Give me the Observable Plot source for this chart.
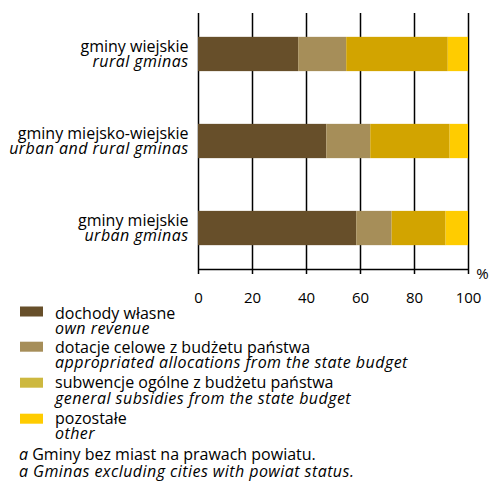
<!DOCTYPE html>
<html>
<head>
<meta charset="utf-8">
<script src="https://cdn.jsdelivr.net/npm/d3@7"></script>
<script src="https://cdn.jsdelivr.net/npm/@observablehq/plot@0.6"></script>
<style>
  body { margin: 0; background: #fff; }
  svg { display: block; }
  #legend { margin-top: -10px; position: relative; }
</style>
</head>
<body>
<div id="chart"></div>
<script>
// ---- data ----
const categoriesPL = ["gminy wiejskie", "gminy miejsko-wiejskie", "gminy miejskie"];
const categoriesEN = ["rural gminas", "urban and rural gminas", "urban gminas"];
const ownRevenue  = [37.1, 47.5, 58.6];
const allocations = [17.8, 16.3, 13.1];
const subsidies   = [37.6, 29.4, 20.0];
const otherRev    = [7.5, 6.8, 8.3];
const seriesPL = ["dochody własne", "dotacje celowe z budżetu państwa", "subwencje ogólne z budżetu państwa", "pozostałe"];
const seriesEN = ["own revenue", "appropriated allocations from the state budget", "general subsidies from the state budget", "other"];
const barColors    = ["#674F2A", "#A68E59", "#D2A400", "#FFCC00"];
const legendColors = ["#674F2A", "#A68E59", "#CDB83F", "#FFCC00"];
const xTicks = [0, 20, 40, 60, 80, 100];
const footnotePL = "Gminy bez miast na prawach powiatu.";
const footnoteEN = "Gminas excluding cities with powiat status.";

// ---- build table ----
const seriesValues = [ownRevenue, allocations, subsidies, otherRev];
const rows = [];
categoriesPL.forEach((c, i) => {
  let acc = 0;
  seriesValues.forEach((vals, s) => {
    rows.push({i, series: seriesPL[s], x1: acc, x2: acc + vals[i]});
    acc += vals[i];
  });
});
const labels = categoriesPL.map((c, i) => ({i, pl: c, en: categoriesEN[i]}));

const FONT = "'Open Sans', Lato, sans-serif";
const ITALIC_SPACING = "0.45px";
const H = 305;
const yMin = -0.471, yMax = 2.471;
const half = 0.197;

const chart = Plot.plot({
  width: 490,
  height: H,
  marginLeft: 198,
  marginRight: 22,
  marginTop: 13,
  marginBottom: H - 269,
  style: {fontFamily: FONT, fontSize: "15px", color: "#000", background: "#fff", overflow: "visible"},
  x: {domain: [0, 100], ticks: xTicks, tickSize: 0, tickPadding: 23, tickFormat: d => String(d), label: null},
  y: {domain: [yMin, yMax], reverse: true, axis: null},
  color: {domain: seriesPL, range: barColors},
  marks: [
    Plot.ruleX(xTicks, {stroke: "#000", strokeWidth: 1.5, insetBottom: -5}),
    Plot.ruleY([yMax], {x1: 0, x2: 100, stroke: "#000", strokeWidth: 1.5}),
    Plot.rect(rows, {x1: "x1", x2: "x2", y1: d => d.i - half, y2: d => d.i + half, fill: "series"}),
    Plot.text(labels, {x: () => 0, y: "i", text: "pl", dx: -10, dy: -7.5, textAnchor: "end", fontSize: 16}),
    Plot.text(labels, {x: () => 0, y: "i", text: "en", dx: -10, dy: 7.5, textAnchor: "end", fontSize: 16, fontStyle: "italic"}),
    Plot.text(["%"], {x: () => 100, y: () => yMax, text: d => d, dx: 14, dy: 5, fontSize: 15})
  ]
});
d3.select(chart).selectAll("g[font-style='italic']").attr("letter-spacing", ITALIC_SPACING);
document.getElementById("chart").appendChild(chart);

// ---- legend + footnote (svg starts 10px above the plot's bottom edge) ----
const OFF = 10;
const leg = d3.select("#chart").append("svg")
  .attr("id", "legend")
  .attr("width", 490).attr("height", 481 - H + OFF)
  .style("font-family", FONT).style("font-size", "16px");

const swatchTop = [1.5, 36.7, 72.7, 108.7];
const base1 = [14, 47.7, 83.3, 118.5];
const base2 = [29.3, 63.3, 99, 133.5];
seriesPL.forEach((s, k) => {
  leg.append("rect").attr("x", 20).attr("y", OFF + swatchTop[k]).attr("width", 23).attr("height", 10).attr("fill", legendColors[k]);
  leg.append("text").attr("x", 55).attr("y", OFF + base1[k]).attr("fill", "#000").text(s);
  leg.append("text").attr("x", 55).attr("y", OFF + base2[k]).attr("fill", "#000")
    .attr("font-style", "italic").attr("letter-spacing", ITALIC_SPACING).text(seriesEN[k]);
});
const f1 = leg.append("text").attr("x", 19).attr("y", OFF + 155).attr("fill", "#000");
f1.append("tspan").attr("font-style", "italic").text("a ");
f1.append("tspan").text(footnotePL);
const f2 = leg.append("text").attr("x", 19).attr("y", OFF + 171.7).attr("fill", "#000")
  .attr("font-style", "italic").attr("letter-spacing", ITALIC_SPACING);
f2.append("tspan").text("a ");
f2.append("tspan").text(footnoteEN);
</script>
</body>
</html>
